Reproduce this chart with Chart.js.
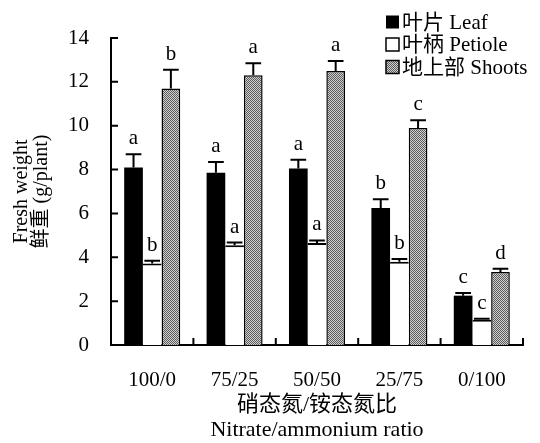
<!DOCTYPE html>
<html>
<head>
<meta charset="utf-8">
<script src="https://cdn.jsdelivr.net/npm/chart.js@4.4.1/dist/chart.umd.min.js"></script>
<style>
  html, body { margin: 0; padding: 0; background: #fff; }
  canvas { display: block; }
</style>
</head>
<body>
<canvas id="c" width="540" height="443"></canvas>
<script>
// Datos: peso fresco (g/planta) por relación nitrato/amonio
const ratios      = ['100/0', '75/25', '50/50', '25/75', '0/100'];
const leafVals    = [8.1, 7.85, 8.05, 6.25, 2.25];
const leafErr     = [0.6, 0.5, 0.4, 0.4, 0.12];
const petioleVals = [3.72, 4.55, 4.65, 3.8, 1.15];
const petioleErr  = [0.12, 0.12, 0.12, 0.12, 0.05];
const shootVals   = [11.7, 12.3, 12.5, 9.9, 3.33];
const shootErr    = [0.85, 0.55, 0.45, 0.35, 0.15];
const leafSig     = ['a', 'a', 'a', 'b', 'c'];
const petioleSig  = ['b', 'a', 'a', 'b', 'c'];
const shootSig    = ['b', 'a', 'a', 'c', 'd'];

const FONT = "'Liberation Serif', 'Noto Sans CJK SC', serif";
Chart.defaults.font.family = FONT;
Chart.defaults.color = '#000';

// Trama gris punteada para "Shoots"
function makePattern() {
  const pc = document.createElement('canvas');
  pc.width = 2; pc.height = 2;
  const p = pc.getContext('2d');
  p.fillStyle = '#cfcfcf'; p.fillRect(0, 0, 2, 2);
  p.fillStyle = '#5c5c5c'; p.fillRect(0, 0, 1, 1); p.fillRect(1, 1, 1, 1);
  return document.getElementById('c').getContext('2d').createPattern(pc, 'repeat');
}
const shootFill = makePattern();

const errs = [leafErr, petioleErr, shootErr];
const sigs = [leafSig, petioleSig, shootSig];

// Barras de error + letras de significancia
const errorBars = {
  id: 'errorBars',
  afterDatasetsDraw(chart) {
    const { ctx, scales: { y } } = chart;
    ctx.save();
    ctx.strokeStyle = '#000';
    ctx.lineWidth = 2;
    ctx.fillStyle = '#000';
    ctx.font = `21px ${FONT}`;
    ctx.textAlign = 'center';
    ctx.textBaseline = 'alphabetic';
    chart.data.datasets.forEach((ds, i) => {
      chart.getDatasetMeta(i).data.forEach((bar, j) => {
        const v = ds.data[j], e = errs[i][j];
        const yTop = y.getPixelForValue(v + e);
        const half = bar.width * 0.42;
        ctx.beginPath();
        ctx.moveTo(bar.x, bar.y);
        ctx.lineTo(bar.x, yTop);
        ctx.moveTo(bar.x - half, yTop);
        ctx.lineTo(bar.x + half, yTop);
        ctx.stroke();
        ctx.fillText(sigs[i][j], bar.x, yTop - 10);
      });
    });
    ctx.restore();
  },
};

// Marcas de ejes hacia adentro
const innerTicks = {
  id: 'innerTicks',
  afterDraw(chart) {
    const { ctx, scales: { x, y } } = chart;
    ctx.save();
    ctx.strokeStyle = '#000';
    ctx.lineWidth = 2;
    ctx.beginPath();
    y.ticks.forEach(t => {
      const py = y.getPixelForValue(t.value);
      ctx.moveTo(y.right, py);
      ctx.lineTo(y.right + 7, py);
    });
    const n = ratios.length;
    for (let i = 1; i <= n; i++) {
      const px = x.left + (x.width * i) / n;
      ctx.moveTo(px, x.top);
      ctx.lineTo(px, x.top - 7);
    }
    ctx.stroke();
    ctx.restore();
  },
};

// Leyenda arriba a la derecha
const cornerLegend = {
  id: 'cornerLegend',
  afterDraw(chart) {
    const { ctx } = chart;
    ctx.save();
    ctx.font = `21px ${FONT}`;
    ctx.textBaseline = 'middle';
    ctx.textAlign = 'left';
    chart.data.datasets.forEach((ds, i) => {
      const cy = 22 + i * 22.5;
      ctx.fillStyle = ds.backgroundColor;
      ctx.fillRect(386, cy - 6.5, 13, 13);
      if (i > 0) {
        ctx.strokeStyle = '#000';
        ctx.lineWidth = 1.5;
        ctx.strokeRect(386, cy - 6.5, 13, 13);
      }
      ctx.fillStyle = '#000';
      ctx.fillText(ds.label, 402, cy + 1);
    });
    ctx.restore();
  },
};

new Chart(document.getElementById('c'), {
  type: 'bar',
  data: {
    labels: ratios,
    datasets: [
      { label: '叶片 Leaf', data: leafVals, backgroundColor: '#000', borderWidth: 0 },
      { label: '叶柄 Petiole', data: petioleVals, backgroundColor: '#fff',
        borderColor: '#000', borderWidth: { top: 2, left: 0, right: 0, bottom: 0 }, borderSkipped: false },
      { label: '地上部 Shoots', data: shootVals, backgroundColor: shootFill,
        borderColor: '#000', borderWidth: 1.5 },
    ],
  },
  options: {
    responsive: false,
    animation: false,
    layout: { padding: { left: 0, right: 17, top: 38, bottom: 0 } },
    datasets: { bar: { barPercentage: 1, categoryPercentage: 0.68 } },
    plugins: { legend: { display: false }, tooltip: { enabled: false } },
    scales: {
      x: {
        grid: { display: false, drawTicks: false },
        border: { color: '#000', width: 2 },
        ticks: { font: { size: 21 }, color: '#000', padding: 23 },
        title: {
          display: true,
          text: ['硝态氮/铵态氮比', 'Nitrate/ammonium ratio'],
          font: { size: 22, lineHeight: 1.14 },
          color: '#000',
          padding: { top: 0, bottom: 0 },
        },
        afterFit: s => { s.height = 98; },
      },
      y: {
        min: 0, max: 14,
        grid: { display: false, drawTicks: false },
        border: { color: '#000', width: 2 },
        ticks: { stepSize: 2, font: { size: 21 }, color: '#000', padding: 22 },
        title: {
          display: true,
          text: ['Fresh weight', '鲜重 (g/plant)'],
          font: { size: 20, lineHeight: 1.0 },
          color: '#000',
          padding: { top: 12, bottom: 0 },
        },
        afterFit: s => { s.width = 111; },
      },
    },
  },
  plugins: [errorBars, innerTicks, cornerLegend],
});
</script>
</body>
</html>
